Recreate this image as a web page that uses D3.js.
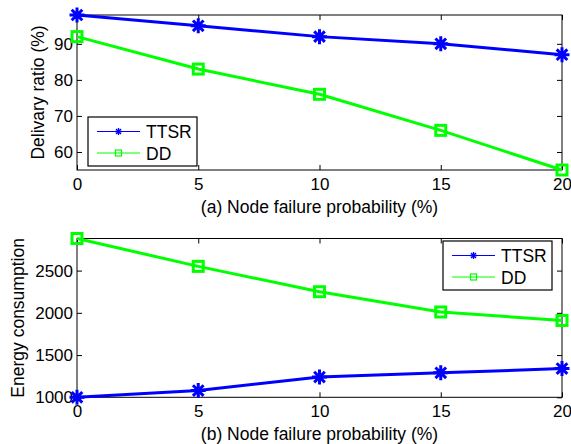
<!DOCTYPE html>
<html><head><meta charset="utf-8">
<script src="https://cdn.jsdelivr.net/npm/d3@7"></script>
<style>body{margin:0;background:#fff}svg{display:block}text{font-family:"Liberation Sans",Arial,sans-serif;fill:#000}</style>
</head><body><svg id="c" width="571" height="444"></svg>
<script>
const xValues = [0, 5, 10, 15, 20];
const xTicks = [0, 5, 10, 15, 20];
const seriesNames = ["TTSR", "DD"];
const deliveryTTSR = [98, 95, 92, 90, 87];
const deliveryDD = [92, 83, 76, 66, 55];
const deliveryTicks = [60, 70, 80, 90];
const energyTTSR = [1000, 1080, 1240, 1290, 1340];
const energyDD = [2880, 2550, 2250, 2010, 1910];
const energyTicks = [1000, 1500, 2000, 2500];
const colors = ["#0000ff", "#00ff00"];

const svg = d3.select("#c");
const L = 77, R = 562;
const FONT = '"Liberation Sans",Arial,sans-serif';

function star(g, x, y, r, c, w) {
  const d = r * Math.SQRT1_2;
  g.append("path").attr("d", `M${x-r},${y}H${x+r}M${x},${y-r}V${y+r}M${x-d},${y-d}L${x+d},${y+d}M${x-d},${y+d}L${x+d},${y-d}`)
    .attr("stroke", c).attr("stroke-width", w).attr("fill", "none");
}
function square(g, x, y, h, c, w) {
  g.append("rect").attr("x", x-h).attr("y", y-h).attr("width", 2*h).attr("height", 2*h)
    .attr("stroke", c).attr("stroke-width", w).attr("fill", "none");
}

function panel(top, bottom, ydom, yticks, s1, s2, ylabel, ylabelX, xlabel, legend) {
  const x = d3.scaleLinear().domain([0, 20]).range([L, R]);
  const y = d3.scaleLinear().domain(ydom).range([bottom, top]);
  const g = svg.append("g");
  const ax = g.append("g").attr("transform", `translate(0,${bottom})`)
    .call(d3.axisBottom(x).tickValues(xTicks).tickSize(-5).tickPadding(8).tickFormat(d3.format("d")));
  const axT = g.append("g").attr("transform", `translate(0,${top})`)
    .call(d3.axisTop(x).tickValues(xTicks).tickSize(-5).tickFormat(""));
  const ay = g.append("g").attr("transform", `translate(${L},0)`)
    .call(d3.axisLeft(y).tickValues(yticks).tickSize(-5).tickPadding(4).tickFormat(d3.format("d")));
  const ayR = g.append("g").attr("transform", `translate(${R},0)`)
    .call(d3.axisRight(y).tickValues(yticks).tickSize(-5).tickFormat(""));
  [ax, axT, ay, ayR].forEach(a => {
    a.select(".domain").remove();
    a.selectAll("line").attr("stroke", "#000");
    a.selectAll("text").attr("font-size", 17).attr("font-family", FONT).attr("fill", "#000");
  });
  g.append("rect").attr("x", L).attr("y", top).attr("width", R-L).attr("height", bottom-top)
    .attr("fill", "none").attr("stroke", "#000").attr("stroke-width", 1);
  const line = d3.line().x((d, i) => x(xValues[i])).y(d => y(d));
  [s1, s2].forEach((s, k) => {
    g.append("path").attr("d", line(s)).attr("fill", "none").attr("stroke", colors[k]).attr("stroke-width", 3);
  });
  s1.forEach((v, i) => star(g, x(xValues[i]), y(v), 7.5, colors[0], 3));
  s2.forEach((v, i) => square(g, x(xValues[i]), y(v), 5, colors[1], 3));
  g.append("text").attr("transform", `translate(${ylabelX},${(top+bottom)/2}) rotate(-90)`)
    .attr("text-anchor", "middle").attr("font-size", 17.5).text(ylabel);
  g.append("text").attr("x", (L+R)/2).attr("y", bottom+43).attr("text-anchor", "middle").attr("font-size", 17.5).text(xlabel);
  const lg = g.append("g");
  lg.append("rect").attr("x", legend.x).attr("y", legend.y).attr("width", legend.w).attr("height", legend.h)
    .attr("fill", "#fff").attr("stroke", "#000").attr("stroke-width", 1.2);
  seriesNames.forEach((n, k) => {
    const yy = legend.y + 14.5 + k * 21.5;
    const x0 = legend.x + 9, x1 = legend.x + 52;
    lg.append("line").attr("x1", x0).attr("x2", x1).attr("y1", yy).attr("y2", yy).attr("stroke", colors[k]).attr("stroke-width", 1.2);
    if (k === 0) star(lg, (x0+x1)/2, yy, 3.5, colors[0], 1.3); else square(lg, (x0+x1)/2, yy, 3, colors[1], 1.2);
    lg.append("text").attr("x", legend.x + 58).attr("y", yy + 6.5).attr("font-size", 17.5).text(n);
  });
}

panel(15, 170, [55, 98], deliveryTicks, deliveryTTSR, deliveryDD, "Delivary ratio (%)", 44,
  "(a) Node failure probability (%)", {x: 88, y: 117, w: 109, h: 49});
panel(238.5, 397.3, [1000, 2880], energyTicks, energyTTSR, energyDD, "Energy consumption", 24,
  "(b) Node failure probability (%)", {x: 443, y: 241, w: 109, h: 49});
</script></body></html>
